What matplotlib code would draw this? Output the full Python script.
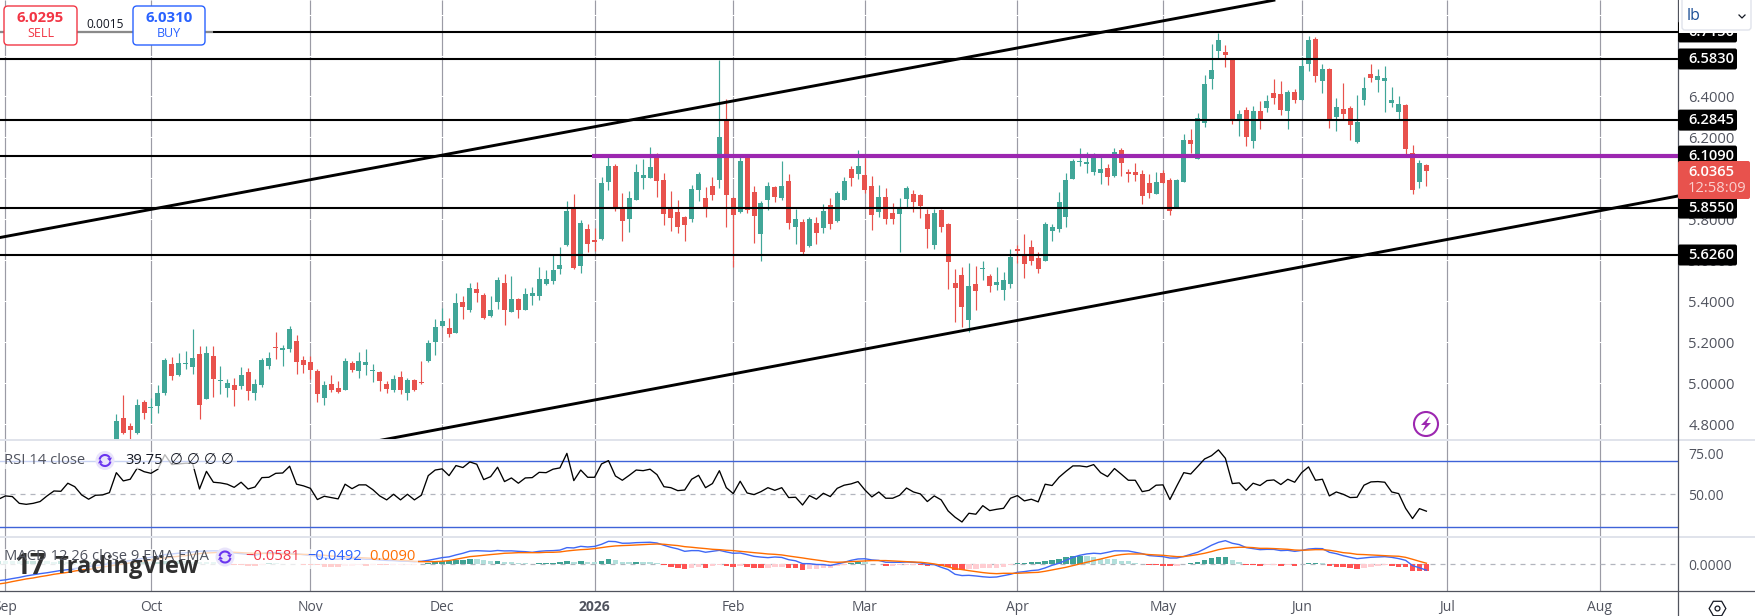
import matplotlib
matplotlib.use("Agg")
import matplotlib.pyplot as plt
import numpy as np
from matplotlib.patches import Arc, Circle, FancyBboxPatch, Polygon, Rectangle

nan = float("nan")

# Daily OHLC, oldest first. The first 17 sessions sit below the visible price range.
opens = [nan] * 10 + [4.700, 4.700] + [nan] * 5 + [
    4.690, 4.830, 4.791, 4.755, 4.908, 4.880, 4.889, 4.952, 5.094, 5.040,
    5.094, 5.079, 5.142, 4.923, 5.133, 5.012, 4.976, 4.991, 4.986, 5.055,
    4.952, 4.991, 5.084, 5.175, 5.162, 5.167, 5.206, 5.113, 5.103, 5.059,
    4.928, 4.996, 4.976, 4.967, 5.098, 5.059, 5.089, 5.061, 5.055, 4.996,
    4.967, 5.030, 4.952, 5.016, 5.004, 5.108, 5.201, 5.279, 5.270, 5.245,
    5.397, 5.358, 5.460, 5.431, 5.328, 5.397, 5.490, 5.348, 5.411, 5.358,
    5.426, 5.426, 5.485, 5.499, 5.558, 5.675, 5.851, 5.572, 5.753, 5.699,
    5.704, 5.983, 6.061, 5.856, 5.802, 5.895, 6.002, 6.002, 6.114, 5.992,
    5.856, 5.836, 5.812, 5.802, 5.944, 5.904, 5.963, 5.992, 6.280, 5.904,
    5.836, 6.110, 5.934, 5.729, 5.895, 5.958, 5.904, 5.988, 5.763, 5.787,
    5.670, 5.782, 5.758, 5.870, 5.792, 5.895, 6.046, 6.022, 6.017, 5.963,
    5.836, 5.909, 5.831, 5.826, 5.899, 5.924, 5.919, 5.826, 5.675, 5.846,
    5.777, 5.489, 5.528, 5.309, 5.484, 5.559, 5.523, 5.480, 5.455, 5.484,
    5.650, 5.626, 5.665, 5.611, 5.597, 5.743, 5.753, 5.811, 5.997, 6.080,
    6.072, 6.031, 6.026, 6.051, 6.012, 6.139, 6.026, 6.031, 6.021, 5.977,
    5.924, 6.026, 5.992, 5.860, 5.982, 6.187, 6.095, 6.270, 6.485, 6.622,
    6.617, 6.578, 6.290, 6.334, 6.182, 6.329, 6.344, 6.417, 6.412, 6.329,
    6.422, 6.383, 6.558, 6.681, 6.475, 6.534, 6.300, 6.339, 6.344, 6.178,
    6.383, 6.510, 6.480, 6.475, 6.368, 6.324, 6.358, 6.124, 5.982, 6.065,
]
highs = [nan] * 10 + [4.726, 4.726] + [nan] * 5 + [
    4.848, 4.942, 4.804, 4.923, 4.918, 4.926, 4.991, 5.123, 5.128, 5.147,
    5.157, 5.265, 5.182, 5.182, 5.182, 5.084, 5.020, 5.025, 5.079, 5.074,
    5.020, 5.123, 5.152, 5.250, 5.186, 5.279, 5.235, 5.133, 5.133, 5.069,
    5.011, 5.040, 5.011, 5.123, 5.108, 5.152, 5.167, 5.094, 5.059, 5.011,
    5.040, 5.059, 5.025, 5.020, 5.108, 5.211, 5.313, 5.367, 5.319, 5.441,
    5.426, 5.490, 5.494, 5.441, 5.426, 5.519, 5.533, 5.524, 5.416, 5.465,
    5.470, 5.568, 5.553, 5.626, 5.665, 5.890, 5.924, 5.797, 5.778, 5.758,
    6.007, 6.110, 6.071, 5.929, 5.939, 6.071, 6.095, 6.154, 6.123, 6.027,
    5.939, 5.895, 5.817, 5.968, 6.031, 5.958, 6.007, 6.578, 6.388, 5.910,
    6.105, 6.114, 5.963, 5.890, 5.983, 5.963, 6.085, 6.022, 5.851, 5.802,
    5.812, 5.812, 5.875, 5.904, 5.939, 6.007, 6.061, 6.139, 6.100, 6.012,
    5.968, 5.953, 5.880, 5.904, 5.963, 5.943, 5.925, 5.851, 5.851, 5.851,
    5.783, 5.558, 5.567, 5.587, 5.572, 5.597, 5.533, 5.567, 5.543, 5.655,
    5.675, 5.728, 5.699, 5.641, 5.787, 5.777, 5.934, 6.026, 6.095, 6.148,
    6.129, 6.124, 6.105, 6.070, 6.148, 6.148, 6.046, 6.075, 6.041, 6.021,
    6.031, 6.041, 6.002, 5.995, 6.217, 6.241, 6.319, 6.505, 6.656, 6.710,
    6.651, 6.583, 6.334, 6.348, 6.353, 6.378, 6.407, 6.485, 6.475, 6.431,
    6.436, 6.593, 6.695, 6.690, 6.558, 6.540, 6.392, 6.466, 6.353, 6.407,
    6.495, 6.558, 6.534, 6.549, 6.446, 6.402, 6.363, 6.163, 6.090, 6.070,
]
lows = [nan] * 10 + [4.650, 4.650] + [nan] * 5 + [
    4.682, 4.750, 4.710, 4.752, 4.825, 4.807, 4.854, 4.942, 5.016, 5.035,
    5.069, 5.045, 4.825, 4.923, 4.933, 4.947, 4.933, 4.889, 4.972, 4.918,
    4.918, 4.981, 5.069, 5.118, 5.084, 5.152, 5.045, 5.050, 5.019, 4.908,
    4.893, 4.957, 4.952, 4.967, 5.055, 5.025, 5.040, 5.006, 4.962, 4.952,
    4.957, 4.947, 4.918, 4.962, 4.996, 5.103, 5.138, 5.275, 5.226, 5.245,
    5.314, 5.348, 5.397, 5.314, 5.323, 5.363, 5.284, 5.348, 5.319, 5.358,
    5.382, 5.406, 5.480, 5.485, 5.533, 5.670, 5.558, 5.538, 5.641, 5.646,
    5.699, 5.944, 5.841, 5.695, 5.739, 5.895, 5.948, 6.002, 5.909, 5.773,
    5.743, 5.734, 5.695, 5.787, 5.890, 5.812, 5.895, 5.953, 5.763, 5.568,
    5.831, 5.831, 5.685, 5.597, 5.846, 5.885, 5.895, 5.753, 5.680, 5.631,
    5.665, 5.680, 5.734, 5.753, 5.787, 5.895, 5.963, 5.997, 5.929, 5.748,
    5.811, 5.777, 5.777, 5.641, 5.855, 5.836, 5.807, 5.660, 5.655, 5.738,
    5.460, 5.299, 5.274, 5.250, 5.357, 5.504, 5.445, 5.455, 5.406, 5.465,
    5.587, 5.514, 5.577, 5.538, 5.597, 5.694, 5.738, 5.763, 5.997, 6.060,
    6.026, 6.017, 5.973, 5.968, 6.007, 6.012, 5.982, 5.987, 5.875, 5.904,
    5.924, 5.977, 5.821, 5.855, 5.982, 6.124, 6.095, 6.251, 6.436, 6.588,
    6.544, 6.265, 6.207, 6.158, 6.148, 6.241, 6.324, 6.363, 6.309, 6.241,
    6.368, 6.383, 6.524, 6.471, 6.417, 6.246, 6.231, 6.288, 6.187, 6.173,
    6.358, 6.471, 6.422, 6.324, 6.348, 6.288, 6.109, 5.924, 5.953, 5.963,
]
closes = [nan] * 10 + [4.680, 4.660] + [nan] * 5 + [
    4.815, 4.755, 4.771, 4.893, 4.854, 4.884, 4.952, 5.113, 5.035, 5.098,
    5.097, 5.123, 4.893, 5.147, 5.020, 5.016, 5.001, 4.967, 5.040, 4.962,
    4.996, 5.113, 5.123, 5.172, 5.172, 5.265, 5.103, 5.089, 5.064, 4.947,
    4.991, 4.967, 4.957, 5.108, 5.064, 5.108, 5.103, 5.064, 5.011, 4.972,
    5.020, 4.967, 5.016, 4.967, 5.001, 5.196, 5.274, 5.304, 5.240, 5.392,
    5.372, 5.465, 5.441, 5.319, 5.358, 5.504, 5.358, 5.411, 5.358, 5.436,
    5.441, 5.509, 5.509, 5.553, 5.577, 5.841, 5.563, 5.782, 5.680, 5.690,
    5.978, 6.061, 5.856, 5.792, 5.904, 6.031, 6.017, 6.056, 5.988, 5.826,
    5.807, 5.763, 5.773, 5.948, 6.022, 5.856, 5.919, 6.202, 5.919, 5.821,
    6.085, 5.846, 5.817, 5.880, 5.963, 5.909, 5.963, 5.782, 5.802, 5.641,
    5.802, 5.734, 5.841, 5.778, 5.929, 5.988, 6.002, 6.061, 5.943, 5.821,
    5.909, 5.802, 5.802, 5.855, 5.953, 5.885, 5.865, 5.753, 5.831, 5.763,
    5.592, 5.465, 5.372, 5.475, 5.450, 5.562, 5.475, 5.494, 5.504, 5.616,
    5.647, 5.582, 5.597, 5.558, 5.777, 5.763, 5.885, 5.992, 6.085, 6.083,
    6.075, 6.100, 6.046, 6.007, 6.129, 6.075, 6.023, 6.017, 5.914, 5.929,
    5.982, 5.977, 5.841, 5.992, 6.187, 6.168, 6.295, 6.461, 6.529, 6.676,
    6.602, 6.288, 6.314, 6.202, 6.329, 6.290, 6.378, 6.392, 6.334, 6.422,
    6.383, 6.549, 6.676, 6.500, 6.534, 6.288, 6.348, 6.314, 6.261, 6.275,
    6.441, 6.490, 6.500, 6.490, 6.383, 6.363, 6.143, 5.943, 6.075, 6.0365,
]

rsi = [
    47.0, 49.0, 48.6, 44.5, 43.9, 44.5, 45.6, 49.0, 52.0, 51.8, 56.7, 54.6, 49.6, 47.0, 49.4, 49.6, 51.0,
    63.1, 58.1, 59.1, 65.8, 63.7, 62.7, 65.2, 74.0, 68.0, 68.4, 68.8, 68.8, 53.2, 63.9, 57.3, 56.9, 56.1,
    54.2, 57.3, 53.2, 54.4, 60.1, 60.3, 62.7, 62.9, 67.0, 56.1, 55.1, 53.6, 46.8, 48.8, 48.0, 47.2, 56.1,
    53.4, 55.7, 55.7, 52.8, 49.0, 46.6, 50.0, 46.6, 50.0, 46.6, 49.4, 61.3, 64.7,
    65.4, 61.3, 67.4, 66.2, 69.6, 68.2, 58.9, 60.7, 66.4, 57.7, 59.9, 56.7, 59.9, 60.1, 63.3, 63.1, 65.2,
    66.0, 74.8, 58.3, 64.7, 60.3, 60.3, 68.4, 70.4, 61.1, 58.5, 61.5, 64.7, 64.3, 65.2, 61.9, 54.6, 54.0,
    52.2, 52.6, 59.1, 61.5, 54.0, 56.5, 64.3, 54.0, 50.4, 57.9, 50.8, 49.8, 51.6, 54.0, 52.4, 54.0, 48.0,
    48.2, 43.5, 49.2, 47.0, 50.6, 48.6, 53.6, 55.5, 56.3, 57.7, 52.6, 48.4, 51.4, 47.6,
    47.6, 49.4, 53.8, 51.4, 50.2, 45.6, 49.0, 46.6, 39.9, 36.1, 33.2, 38.5, 37.9, 43.1, 40.1, 40.9, 41.5,
    47.6, 49.2, 46.0, 47.0, 45.4, 56.1, 55.3, 60.3, 63.9, 67.2, 67.2, 66.6, 68.0, 63.1, 60.7, 65.6, 62.1,
    58.5, 58.5, 51.6, 52.4, 55.5, 55.7, 46.8, 55.1, 63.1, 62.3, 66.8, 71.4, 73.4, 76.9, 71.8, 56.5, 56.9,
    52.4, 56.7, 55.3, 58.3, 58.7, 55.9, 59.1, 57.3, 63.1, 66.6, 58.5, 59.1,
    49.0, 51.4, 50.0, 48.0, 48.2, 55.5, 57.5, 57.7, 57.3, 51.4, 50.4, 41.5, 35.3, 41.3, 39.75,
]

macd_signal = [
    -.164, -.156, -.144, -.133, -.122, -.114, -.103, -.094, -.083, -.075, -.067, -.056, -.047, -.039, -.031, -.022, -.014,
    -.006, .003, .011, .019, .028, .036, .044, .053, .061, .067, .072, .081, .089, .094, .097, .100, .100,
    .100, .097, .094, .092, .092, .089, .089, .086, .086, .083, .083, .081, .078, .075, .069, .067, .064,
    .058, .056, .053, .050, .044, .042, .039, .033, .031, .025, .022, .022, .022,
    .025, .031, .042, .053, .064, .069, .075, .081, .086, .092, .094, .097, .097, .097, .097, .100, .100,
    .103, .111, .117, .122, .125, .131, .139, .147, .153, .156, .158, .161, .164, .167, .169, .167, .161,
    .156, .147, .142, .136, .131, .125, .122, .117, .114, .108, .103, .097, .092, .086, .083, .078, .069,
    .061, .053, .044, .036, .028, .019, .017, .019, .022, .025, .028, .031, .031, .031,
    .028, .025, .022, .019, .017, .011, .003, -.008, -.022, -.036, -.044, -.053, -.061, -.069, -.075, -.078, -.075,
    -.075, -.075, -.072, -.069, -.067, -.058, -.047, -.036, -.025, -.011, .003, .017, .031, .044, .058, .072, .081,
    .086, .086, .086, .081, .078, .075, .069, .064, .064, .072, .081, .092, .106, .122, .133, .139, .142,
    .142, .139, .133, .133, .131, .128, .125, .119, .117, .119, .122, .122,
    .117, .108, .097, .092, .083, .081, .078, .075, .072, .069, .067, .058, .042, .025, .009,
]

macd_hist = [
    .0278, .0264, .0250, .0236, .0250, .0264, .0250, .0236, .0222, .0236, .0222, .0208, .0194, .0208, .0194, .0181, .0194,
    .0194, .0200, .0194, .0222, .0225, .0222, .0228, .0278, .0250, .0256, .0236, .0222, .0194, .0167, .0153, .0111, .0083,
    -.0056, -.0083, -.0111, -.0167, -.0028, .0083, .0069, .0056, .0050, .0042, -.0028, -.0056, -.0083, -.0222, -.0236, -.0250, -.0139,
    -.0111, -.0097, -.0111, -.0083, -.0083, -.0097, -.0083, -.0069, -.0056, -.0042, .0028, .0111, .0222,
    .0306, .0311, .0361, .0389, .0458, .0444, .0361, .0278, .0292, .0194, .0181, .0111, .0083, .0028, .0111, .0125, .0139,
    .0153, .0278, .0194, .0278, .0194, .0181, .0278, .0444, .0361, .0194, .0181, .0194, .0181, .0167, .0083, -.0083, -.0194,
    -.0278, -.0389, -.0278, -.0222, -.0306, -.0167, -.0056, -.0139, -.0222, -.0139, -.0222, -.0306, -.0319, -.0306, -.0222, -.0208, -.0306,
    -.0319, -.0472, -.0389, -.0375, -.0306, -.0292, -.0139, -.0028, .0111, .0194, .0181, .0056, .0014, -.0139,
    -.0111, -.0083, -.0028, -.0022, -.0056, -.0111, -.0056, -.0167, -.0222, -.0472, -.0500, -.0389, -.0361, -.0347, -.0333, -.0278, -.0194,
    -.0083, .0083, .0111, .0167, .0194, .0278, .0389, .0444, .0583, .0694, .0722, .0694, .0611, .0444, .0417, .0403, .0306,
    .0250, .0139, .0028, -.0083, -.0097, -.0111, -.0167, -.0111, .0014, .0111, .0194, .0361, .0528, .0611, .0639, .0361, .0222,
    -.0028, -.0083, -.0111, -.0083, -.0069, -.0139, -.0083, -.0111, -.0014, .0083, .0097, .0083,
    -.0167, -.0194, -.0250, -.0333, -.0361, -.0278, -.0194, -.0139, -.0083, -.0111, -.0194, -.0250, -.0528, -.0542, -.0581,
]

# Horizontal levels and hand-drawn channel, as (bar, price) anchors
level_prices = [6.7150, 6.5830, 6.2845, 6.1090, 5.8550, 5.6260]
level_labels = ["6.7150", "6.5830", "6.2845", "6.1090", "5.8550", "5.6260"]
resistance_price = 6.1090
resistance_start = 85.6
upper_channel_bars = [0, 184]
upper_channel_prices = [5.71, 6.87]
lower_channel_bars = [54.6, 242.3]
lower_channel_prices = [4.718, 5.914]

month_bars = [1, 22, 45, 64, 86, 106, 125, 147, 168, 188, 209, 231]
month_labels = ["Sep", "Oct", "Nov", "Dec", "2026", "Feb", "Mar", "Apr", "May", "Jun", "Jul", "Aug"]
price_ticks = [4.8, 5.0, 5.2, 5.4, 5.6, 5.8, 6.0, 6.2, 6.4, 6.6, 6.8]

GREEN = "#41a698"
RED = "#e8524d"
GRID = "#9b9ba5"
AXIS_TEXT = "#50535e"
W, H = 1755, 616
AXIS_X = 1678
PRICE_TOP, PRICE_BOTTOM = 6.871, 4.7227
BAR_VIEW = (0.216, 242.3)

plt.rcParams["font.family"] = ["Open Sans", "DejaVu Sans"]
plt.rcParams["axes.unicode_minus"] = False

fig = plt.figure(figsize=(W / 100, H / 100), dpi=100, facecolor="white")


def pane(top, bottom):
    ax = fig.add_axes([0, 1 - bottom / H, AXIS_X / W, (bottom - top) / H])
    ax.set_xlim(*BAR_VIEW)
    for side in ax.spines.values():
        side.set_visible(False)
    ax.set_xticks([])
    ax.tick_params(length=0)
    ax.vlines(month_bars, 0, 1, transform=ax.get_xaxis_transform(), color=GRID, lw=0.85, zorder=1)
    return ax


bars = np.arange(len(closes))
o, h, l, c = map(np.array, (opens, highs, lows, closes))

# Price pane
ax_price = pane(0, 440)
ax_price.set_ylim(PRICE_BOTTOM, PRICE_TOP)
ax_price.yaxis.tick_right()
ax_price.set_yticks(price_ticks, [f"{p:.4f}" for p in price_ticks], color=AXIS_TEXT, fontsize=10.6)
ax_price.tick_params(axis="y", pad=7.5, length=0)
ax_price.hlines(price_ticks, 0, 1, transform=ax_price.get_yaxis_transform(), color="white", lw=0.8, zorder=1.5)

up = c >= o
colors = np.where(up, GREEN, RED)
min_body = 1.2 * (PRICE_TOP - PRICE_BOTTOM) / 440
ax_price.vlines(bars, l, h, color=colors, lw=0.85, zorder=2)
ax_price.bar(bars, np.maximum(np.abs(c - o), min_body), bottom=np.minimum(o, c), width=0.72,
             color=colors, lw=0, zorder=2.1)

for price in level_prices:
    ax_price.axhline(price, color="black", lw=1.5, zorder=3)
ax_price.plot(upper_channel_bars, upper_channel_prices, color="black", lw=2.1, zorder=3)
ax_price.plot(lower_channel_bars, lower_channel_prices, color="black", lw=2.1, zorder=3)
ax_price.plot([resistance_start, BAR_VIEW[1]], [resistance_price] * 2, color="#9c27b0", lw=3, zorder=3.2,
              solid_capstyle="butt")

# RSI pane
ax_rsi = pane(440, 537)
ax_rsi.set_ylim(24.1, 82.9)
ax_rsi.yaxis.tick_right()
ax_rsi.set_yticks([50, 75], ["50.00", "75.00"], color=AXIS_TEXT, fontsize=10)
ax_rsi.tick_params(axis="y", pad=7.5, length=0)
ax_rsi.axhline(70, color="#3f63d8", lw=1, zorder=1.5)
ax_rsi.axhline(30, color="#3f63d8", lw=1, zorder=1.5)
ax_rsi.axhline(50, color="#b2b5be", lw=0.9, dashes=(4, 4), zorder=1.5)
ax_rsi.plot(bars, rsi, color="black", lw=0.95, zorder=2)

# MACD pane
ax_macd = pane(537, 591)
ax_macd.set_ylim(-0.2225, 0.2275)
ax_macd.yaxis.tick_right()
ax_macd.set_yticks([0], ["0.0000"], color=AXIS_TEXT, fontsize=10)
ax_macd.tick_params(axis="y", pad=7.5, length=0)
ax_macd.axhline(0, color="#b2b5be", lw=0.9, dashes=(4, 4), zorder=1.5)

hist = np.array(macd_hist)
signal = np.array(macd_signal)
macd = signal + hist
prev = np.r_[hist[0], hist[:-1]]
hist_colors = np.where(hist >= 0,
                       np.where(hist >= prev, "#3fa294", "#b2dfdb"),
                       np.where(hist <= prev, "#ff5252", "#ffcdd2"))
ax_macd.bar(bars, hist, width=0.8, color=hist_colors, lw=0, zorder=2)
ax_macd.plot(bars, macd, color="#3f68f5", lw=1, zorder=3)
ax_macd.plot(bars, signal, color="#ff6d00", lw=1, zorder=3.1)

ax_macd.set_xticks(month_bars, month_labels, color=AXIS_TEXT, fontsize=10)
ax_macd.tick_params(axis="x", pad=6.8, length=0)
ax_macd.get_xticklabels()[4].set_fontweight("bold")

# Everything on top of the panes is placed in screen pixels
top = fig.add_axes([0, 0, 1, 1], facecolor="none", zorder=5)
top.set_xlim(0, W)
top.set_ylim(H, 0)
top.axis("off")


def price_y(price):
    return 440 * (PRICE_TOP - price) / (PRICE_TOP - PRICE_BOTTOM)


def box(x0, y0, w, hgt, fc, ec="none", radius=2.0, lw=1.0, z=6):
    top.add_patch(FancyBboxPatch((x0 + radius, y0 + radius), w - 2 * radius, hgt - 2 * radius,
                                 boxstyle=f"round,pad={radius}", fc=fc, ec=ec, lw=lw, zorder=z))


def refresh_icon(cx, cy):
    top.add_patch(Circle((cx, cy), 9.5, fc="#e9e4fb", ec="none", zorder=8))
    top.add_patch(Arc((cx, cy), 11, 11, theta1=190, theta2=330, color="#6a35ef", lw=1.5, zorder=9))
    top.add_patch(Arc((cx, cy), 11, 11, theta1=10, theta2=150, color="#6a35ef", lw=1.5, zorder=9))
    top.add_patch(Polygon([(cx + 7, cy - 3), (cx + 2, cy - 2), (cx + 5, cy + 1)], fc="#6a35ef", zorder=9))
    top.add_patch(Polygon([(cx - 7, cy + 3), (cx - 2, cy + 2), (cx - 5, cy - 1)], fc="#6a35ef", zorder=9))


# Pane separators and axis borders
for y in (440, 537):
    top.plot([0, W], [y, y], color="#e0e3eb", lw=1.4, zorder=5)
top.plot([0, W], [591, 591], color="#50535e", lw=0.9, zorder=5.5)
top.plot([AXIS_X, AXIS_X], [0, H], color="#50535e", lw=0.9, zorder=5.5)

# Level tags on the price scale
for price, label in zip(level_prices, level_labels):
    y = price_y(price)
    box(AXIS_X, y - 10.5, 59, 21, "black", z=6)
    top.text(1688, y, label, color="white", fontsize=10.6, va="center", ha="left", fontweight="semibold", zorder=7)

box(AXIS_X, 161, 72, 38, RED, z=6.5)
top.text(1688, 172, "6.0365", color="white", fontsize=10.6, va="center", ha="left", fontweight="semibold", zorder=7)
top.text(1688, 189, "12:58:09", color="#fbd0ce", fontsize=10.6, va="center", ha="left", zorder=7)

# Unit selector, with the white strip that hides the top of the highest tag
top.add_patch(Rectangle((AXIS_X + 1, 0), W - AXIS_X - 1, 33, fc="white", ec="none", zorder=7.2))
box(1682, -4, 69, 34, "white", ec="#e0e3eb", radius=3, z=7.5)
top.text(1687, 16, "lb", color="#1c4f96", fontsize=11.4, va="center", ha="left", zorder=8)
top.plot([1739, 1742, 1745], [15, 18, 15], color="#131722", lw=0.9, zorder=8)

# Sell and buy buttons
top.plot([0, 212], [32, 32], color="#8a8a8a", lw=1.5, zorder=6)
box(4, 6, 73, 39, "white", ec="#f23645", radius=4, z=7)
box(133, 6, 72, 39, "white", ec="#2962ff", radius=4, z=7)
top.text(40.5, 18, "6.0295", color="#f23645", fontsize=10.8, fontweight="bold", ha="center", va="center", zorder=8)
top.text(40.5, 33.5, "SELL", color="#f23645", fontsize=9, ha="center", va="center", zorder=8)
top.text(169, 18, "6.0310", color="#2962ff", fontsize=10.8, fontweight="bold", ha="center", va="center", zorder=8)
top.text(169, 33.5, "BUY", color="#2962ff", fontsize=9, ha="center", va="center", zorder=8)
top.text(105, 25, "0.0015", color="#131722", fontsize=8.6, ha="center", va="center", zorder=8)

# Alert badge
top.add_patch(Circle((1426, 424), 12, fc="white", ec="#9c27b0", lw=1.5, zorder=7))
top.add_patch(Polygon([(1430, 416), (1421, 425), (1425.5, 425), (1422, 432), (1431, 423), (1426.5, 423)],
                      fc="#9c27b0", zorder=8))

# RSI legend
top.add_patch(Rectangle((0, 452), 237, 17, fc="white", alpha=0.72, ec="none", zorder=6))
top.text(4, 460.5, "RSI 14 close", color=AXIS_TEXT, fontsize=10.6, va="center", ha="left", zorder=8)
refresh_icon(105, 460.5)
top.text(125, 460.5, "39.75", color="#131722", fontsize=10.6, va="center", ha="left", zorder=8)
for x in (176, 193, 210, 227):
    top.text(x, 460.5, "∅", color="#131722", fontsize=10.6, va="center", ha="center", zorder=8)

# TradingView mark under the MACD legend
top.add_patch(Rectangle((0, 549), 418, 20, fc="white", alpha=0.72, ec="none", zorder=6))
top.text(14, 566, "17", color="#303030", fontsize=20, fontweight="bold", va="center", ha="left", zorder=7)
top.text(55, 567, "TradingView", color="#303030", fontsize=17, fontweight="bold", va="center", ha="left", zorder=7)

# MACD legend
top.text(4, 557, "MACD 12 26 close 9 EMA EMA", color=AXIS_TEXT, fontsize=10.6, va="center", ha="left", zorder=8)
refresh_icon(225, 557)
top.text(245, 557, "−0.0581", color="#f23645", fontsize=10.6, va="center", ha="left", zorder=8)
top.text(307, 557, "−0.0492", color="#2962ff", fontsize=10.6, va="center", ha="left", zorder=8)
top.text(369, 557, "0.0090", color="#ff6d00", fontsize=10.6, va="center", ha="left", zorder=8)

# Chart settings button
top.plot([1717], [608], marker="H", ms=12, mfc="white", mec="#131722", mew=0.9, zorder=8)
top.plot([1717], [608], marker="o", ms=3.5, mfc="white", mec="#131722", mew=0.9, zorder=8)

fig.savefig("out.png", dpi=100, facecolor="white")
plt.close(fig)
